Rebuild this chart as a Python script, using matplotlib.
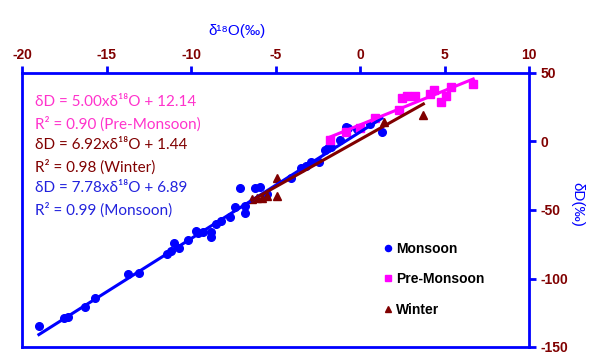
import matplotlib

matplotlib.use("Agg")
import matplotlib.pyplot as plt
import numpy as np

plt.rcParams["axes.unicode_minus"] = False

# Monsoon samples (d18O, dD)
mon_o18 = [-19.0, -17.5, -17.3, -16.3, -15.7, -13.7, -13.1, -11.4, -11.2, -11.0,
           -10.7, -10.2, -9.7, -9.6, -9.3, -8.8, -8.8, -8.5, -8.2, -7.7, -7.4,
           -7.1, -6.8, -6.8, -6.2, -5.9, -5.5, -4.1, -3.5, -3.2, -2.9, -2.4,
           -2.1, -1.9, -1.7, -1.2, -0.8, -0.7, -0.2, 0.6, 1.3]
mon_d = [-135, -129, -128, -121, -114, -97, -96, -82, -80, -74,
         -78, -72, -65, -67, -66, -70, -66, -60, -58, -55, -48,
         -34, -52, -47, -34, -33, -38, -27, -19, -18, -15, -15,
         -6, -5, -4, 1, 10.5, 9.5, 9, 13, 7]

# Pre-monsoon samples
pre_o18 = [-1.8, -0.8, 0.0, 0.9, 2.3, 2.5, 2.8, 3.25, 4.15, 4.35, 4.8, 5.1, 5.4, 6.7]
pre_d = [1, 7, 9.5, 17, 23, 31.5, 33.5, 33.5, 35, 37.5, 28.5, 33.5, 40, 42]

# Winter samples
win_o18 = [-6.4, -6.1, -5.8, -5.5, -4.9, -4.9, 1.4, 3.75]
win_d = [-42, -41, -41.5, -40, -27, -39.5, 14, 19.5]

# regression lines: slope, intercept
mon_fit = (7.78, 6.89)
pre_fit = (5.00, 12.14)
win_fit = (6.92, 1.44)

eq_lines = [
    ("\u03b4D = 5.00x\u03b4\u00b9\u2078O + 12.14", "#ff33cc"),
    ("R\u00b2 = 0.90 (Pre-Monsoon)", "#ff33cc"),
    ("\u03b4D = 6.92x\u03b4\u00b9\u2078O + 1.44", "#800000"),
    ("R\u00b2 = 0.98 (Winter)", "#800000"),
    ("\u03b4D = 7.78x\u03b4\u00b9\u2078O + 6.89", "#2222dd"),
    ("R\u00b2 = 0.99 (Monsoon)", "#2222dd"),
]

x_ticks = [-20, -15, -10, -5, 0, 5, 10]
y_ticks = [-150, -100, -50, 0, 50]

BLUE = "#0000ff"
MAROON = "#800000"
MAGENTA = "#ff00ff"

fig = plt.figure(figsize=(6.0, 3.58), dpi=100)
ax = fig.add_axes([22 / 600, 1 - 347 / 358, 507 / 600, 274 / 358])

ax.plot(mon_o18, mon_d, "o", color=BLUE, ms=5.5, mec=BLUE, label="Monsoon", zorder=3)
ax.plot(pre_o18, pre_d, "s", color=MAGENTA, ms=6, mec=MAGENTA, label="Pre-Monsoon", zorder=3)
ax.plot(win_o18, win_d, "^", color=MAROON, ms=6, mec=MAROON, label="Winter", zorder=3)

# trendlines over the data range of each series
for xs, (m, b), col in [(mon_o18, mon_fit, BLUE), (pre_o18, pre_fit, MAGENTA),
                        (win_o18, win_fit, MAROON)]:
    xx = np.array([min(xs), max(xs)])
    ax.plot(xx, m * xx + b, "-", color=col, lw=2.2, zorder=4)

ax.set_xlim(-20, 10)
ax.set_ylim(-150, 50)
ax.set_xticks(x_ticks)
ax.set_yticks(y_ticks)
ax.xaxis.tick_top()
ax.yaxis.tick_right()
ax.xaxis.set_label_position("top")
ax.yaxis.set_label_position("right")
ax.tick_params(axis="both", direction="out", length=5, width=2, color=BLUE,
               labelcolor=MAROON, labelsize=10, pad=3)
for lbl in ax.get_xticklabels() + ax.get_yticklabels():
    lbl.set_fontfamily("Liberation Sans")
    lbl.set_fontweight("bold")
for sp in ax.spines.values():
    sp.set_color(BLUE)
    sp.set_linewidth(2)

ax.set_xlabel("\u03b4\u00b9\u2078O(\u2030)", color=BLUE, fontsize=11,
              family=["Liberation Sans", "DejaVu Sans"], labelpad=6)
ax.xaxis.set_label_coords(0.424, 1.14)
ax.set_ylabel("\u03b4D(\u2030)", color=BLUE, fontsize=11, rotation=270,
              family=["Liberation Sans", "DejaVu Sans"])
ax.yaxis.set_label_coords(1.11, 0.52)

for i, (txt, col) in enumerate(eq_lines):
    fig.text(35 / 600, 1 - (102 + 21.6 * i) / 358, txt, color=col, fontsize=11,
             family=["Lato", "DejaVu Sans"], va="center", ha="left")

leg = ax.legend(loc="upper left", bbox_to_anchor=(378 / 600, 1 - 236 / 358),
                bbox_transform=fig.transFigure, frameon=False, handlelength=0.6,
                handletextpad=0.3, labelspacing=1.2, borderaxespad=0,
                prop={"family": "Liberation Sans", "weight": "bold", "size": 10},
                markerscale=0.8)

fig.savefig("out.png", dpi=100)
